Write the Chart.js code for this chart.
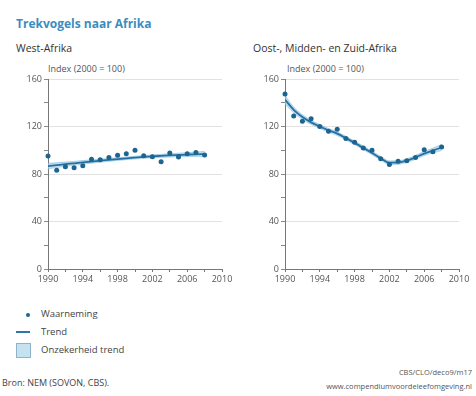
<!DOCTYPE html>
<html>
<head>
<meta charset="utf-8">
<script src="https://cdn.jsdelivr.net/npm/chart.js@4.4.1/dist/chart.umd.min.js"></script>
<style>
    html, body { margin: 0; padding: 0; background: #fff; }
    body { width: 476px; height: 396px; position: relative; overflow: hidden; font-family: "Open Sans", sans-serif; color: #444; }
    .txt { position: absolute; white-space: nowrap; }
    .title { left: 16px; top: 15px; font-size: 12px; font-weight: bold; color: #3a8dc0; }
    .sub { top: 41px; font-size: 10.5px; color: #333; }
    .idx { top: 62px; font-size: 9px; color: #555; }
    .box { position: absolute; }
    canvas { position: absolute; }
    .leg { left: 41px; font-size: 9.5px; color: #444; }
    .small { right: 4px; font-size: 7.5px; color: #555; }
</style>
</head>
<body>
<div class="txt title">Trekvogels naar Afrika</div>
<div class="txt sub" style="left:16px">West-Afrika</div>
<div class="txt sub" style="left:253px">Oost-, Midden- en Zuid-Afrika</div>
<div class="txt idx" style="left:48px">Index (2000 = 100)</div>
<div class="txt idx" style="left:287px">Index (2000 = 100)</div>

<canvas id="westChart" width="220" height="219" style="left:18px; top:70px"></canvas>
<canvas id="eastChart" width="220" height="219" style="left:255px; top:70px"></canvas>

<div class="box" style="left:26px; top:313px; width:4px; height:4px; border-radius:2px; background:#1d6590"></div>
<div class="txt leg" style="top:307px">Waarneming</div>
<div class="box" style="left:16px; top:331px; width:14px; height:2px; background:#2a78aa"></div>
<div class="txt leg" style="top:325px">Trend</div>
<div class="box" style="left:16px; top:343px; width:13px; height:13px; background:#c5e2f1; border:1px solid #8fb4c8"></div>
<div class="txt leg" style="top:343px">Onzekerheid trend</div>

<div class="txt" style="left:2px; top:376px; font-size:9px; color:#444">Bron: NEM (SOVON, CBS).</div>
<div class="txt small" style="top:367px">CBS/CLO/deco9/m17</div>
<div class="txt small" style="top:381px">www.compendiumvoordeleefomgeving.nl</div>

<script>
    var years = [1990, 1991, 1992, 1993, 1994, 1995, 1996, 1997, 1998, 1999,
                 2000, 2001, 2002, 2003, 2004, 2005, 2006, 2007, 2008];

    // West-Afrika
    var westObs = [95.2, 83.1, 86.2, 85.3, 87.0, 92.4, 92.1, 93.8, 95.7, 97.1,
                   100.0, 95.4, 94.6, 90.4, 97.7, 94.3, 97.1, 98.2, 96.0];
    var westTrend = [86.7, 87.5, 88.3, 89.0, 89.8, 90.5, 91.2, 91.9, 92.6, 93.2,
                     93.8, 94.4, 94.9, 95.3, 95.7, 96.0, 96.3, 96.6, 96.8];
    var westLow = [84.4, 85.5, 86.5, 87.4, 88.3, 89.1, 89.9, 90.7, 91.4, 92.1,
                   92.7, 93.2, 93.7, 94.0, 94.3, 94.5, 94.6, 94.7, 94.6];
    var westHigh = [89.0, 89.5, 90.1, 90.6, 91.3, 91.9, 92.5, 93.1, 93.8, 94.3,
                    94.9, 95.6, 96.1, 96.6, 97.1, 97.5, 98.0, 98.5, 99.0];

    // Oost-, Midden- en Zuid-Afrika
    var eastObs = [147.4, 128.8, 124.4, 126.6, 120.1, 115.9, 117.6, 109.8, 106.7, 101.9,
                   100.0, 92.9, 88.1, 90.7, 91.2, 93.8, 100.5, 98.8, 102.7];
    var eastTrend = [142.6, 134.0, 128.0, 123.5, 120.0, 116.8, 114.0, 110.2, 106.2, 102.0,
                     97.7, 93.3, 89.5, 89.6, 91.3, 94.0, 97.2, 99.8, 102.3];
    var eastLow = [139.0, 131.5, 126.0, 121.8, 118.4, 115.3, 112.5, 108.7, 104.7, 100.5,
                   96.2, 91.8, 88.0, 88.1, 89.8, 92.4, 95.5, 97.8, 99.8];
    var eastHigh = [146.2, 136.5, 130.0, 125.2, 121.6, 118.3, 115.5, 111.7, 107.7, 103.5,
                    99.2, 94.8, 91.0, 91.1, 92.8, 95.6, 98.9, 101.8, 104.8];

    var yMax = 160;
    var xMin = 1990, xMax = 2010;

    Chart.defaults.font.family = '"Open Sans", sans-serif';
    Chart.defaults.font.size = 9;
    Chart.defaults.color = '#555';

    function pts(values) {
        return years.map(function (y, i) { return { x: y, y: values[i] }; });
    }

    function makeChart(id, obs, trend, low, high) {
        var ctx = document.getElementById(id).getContext('2d');
        return new Chart(ctx, {
            type: 'line',
            data: {
                datasets: [{
                    label: 'low',
                    data: pts(low),
                    order: 3,
                    borderColor: 'rgba(120,175,205,0.5)',
                    borderWidth: 1,
                    pointRadius: 0,
                    cubicInterpolationMode: 'monotone',
                    fill: false
                }, {
                    label: 'high',
                    data: pts(high),
                    order: 2,
                    borderColor: 'rgba(120,175,205,0.5)',
                    borderWidth: 1,
                    backgroundColor: 'rgba(165,210,235,0.7)',
                    pointRadius: 0,
                    cubicInterpolationMode: 'monotone',
                    fill: '-1'
                }, {
                    label: 'Trend',
                    data: pts(trend),
                    order: 1,
                    borderColor: '#2470a3',
                    borderWidth: 1.8,
                    pointRadius: 0,
                    cubicInterpolationMode: 'monotone',
                    fill: false
                }, {
                    label: 'Waarneming',
                    data: pts(obs),
                    order: 0,
                    clip: false,
                    showLine: false,
                    pointRadius: 2.5,
                    pointBackgroundColor: '#1d6590',
                    pointBorderWidth: 0,
                    fill: false
                }]
            },
            options: {
                responsive: false,
                animation: false,
                layout: { padding: { top: 9, right: 16, left: 0, bottom: 0 } },
                plugins: {
                    legend: { display: false },
                    tooltip: { enabled: false }
                },
                scales: {
                    x: {
                        type: 'linear',
                        min: xMin,
                        max: xMax,
                        afterFit: function (s) { s.height = 20; },
                        ticks: {
                            stepSize: 2,
                            autoSkip: false,
                            maxRotation: 0,
                            padding: 2,
                            color: '#555',
                            callback: function (v) { return (v - xMin) % 4 === 0 ? String(v) : ''; }
                        },
                        grid: { drawOnChartArea: false, tickLength: 3, color: '#777' },
                        border: { color: '#777' }
                    },
                    y: {
                        min: 0,
                        max: yMax,
                        afterFit: function (s) { s.width = 30; },
                        ticks: {
                            stepSize: 20,
                            autoSkip: false,
                            padding: 2,
                            color: '#555',
                            callback: function (v) { return v % 40 === 0 ? String(v) : ''; }
                        },
                        grid: {
                            tickLength: 4,
                            color: function (c) {
                                return (c.tick && c.tick.value % 40 === 0 && c.tick.value > 0) ? '#e2e2e2' : 'rgba(0,0,0,0)';
                            },
                            tickColor: '#888'
                        },
                        border: { color: '#777' }
                    }
                }
            }
        });
    }

    makeChart('westChart', westObs, westTrend, westLow, westHigh);
    makeChart('eastChart', eastObs, eastTrend, eastLow, eastHigh);
</script>
</body>
</html>
